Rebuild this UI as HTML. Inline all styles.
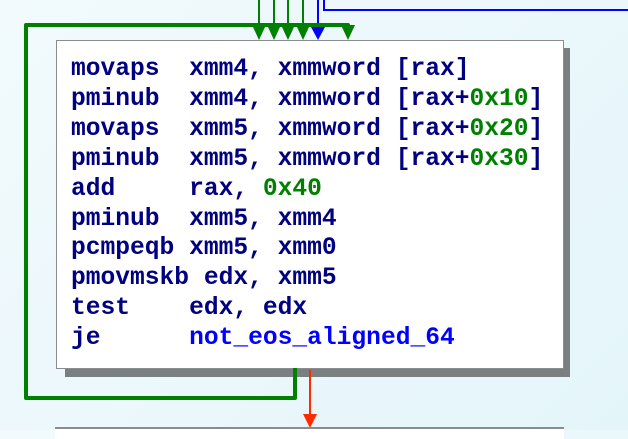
<!DOCTYPE html>
<html><head><meta charset="utf-8"><style>
html,body{margin:0;padding:0}
body{width:628px;height:430px;overflow:hidden;position:relative;background:linear-gradient(135deg,#f2fafd,#e4f5fa);}
.sh{position:absolute;left:65px;top:48px;width:505px;height:329px;background:#7a7f82}
.box{position:absolute;left:56px;top:40px;width:506px;height:327px;background:#fff;border:1px solid #8a8d90}
.code{position:absolute;left:71px;top:55px;font-family:"Liberation Mono",monospace;font-weight:bold;font-size:24.6px;line-height:29.9px;color:#000080;white-space:pre}
.g{color:#008000}.b{color:#0000ff}
.bot{position:absolute;left:55px;top:427px;width:509px;height:10px;background:#fff;border-top:2px solid #8a8d90}
svg{position:absolute;left:0;top:0}
</style></head><body>
<div class="sh"></div>
<div class="box"></div>
<div class="code">movaps  xmm4, xmmword [rax]
pminub  xmm4, xmmword [rax+<span class="g">0x10</span>]
movaps  xmm5, xmmword [rax+<span class="g">0x20</span>]
pminub  xmm5, xmmword [rax+<span class="g">0x30</span>]
add     rax, <span class="g">0x40</span>
pminub  xmm5, xmm4
pcmpeqb xmm5, xmm0
pmovmskb edx, xmm5
test    edx, edx
je      <span class="b">not_eos_aligned_64</span></div>
<div class="bot"></div>
<svg width="628" height="430">
<g stroke="#008000" stroke-width="2" fill="none">
<line x1="259" y1="0" x2="259" y2="30"/><line x1="274" y1="0" x2="274" y2="30"/>
<line x1="288" y1="0" x2="288" y2="30"/><line x1="303" y1="0" x2="303" y2="30"/>
</g>
<polyline points="324,0 324,10 628,10" stroke="#0000ff" stroke-width="2" fill="none"/>
<line x1="318" y1="0" x2="318" y2="30" stroke="#0000ff" stroke-width="2"/>
<polyline points="295,368 295,398 26,398 26,25 348,25 348,30" stroke="#008000" stroke-width="4" fill="none" stroke-linejoin="round"/>
<g fill="#008000">
<polygon points="253,27 265,27 259,40"/><polygon points="268,27 280,27 274,40"/>
<polygon points="282,27 294,27 288,40"/><polygon points="297,27 309,27 303,40"/>
<polygon points="341,25 355,25 348,40"/>
</g>
<polygon points="311,27 325,27 318,40" fill="#0000ff"/>
<line x1="310" y1="370" x2="310" y2="416" stroke="#ff2a00" stroke-width="2"/>
<polygon points="303,414 317,414 310,428" fill="#ff2a00"/>
</svg>
</body></html>
